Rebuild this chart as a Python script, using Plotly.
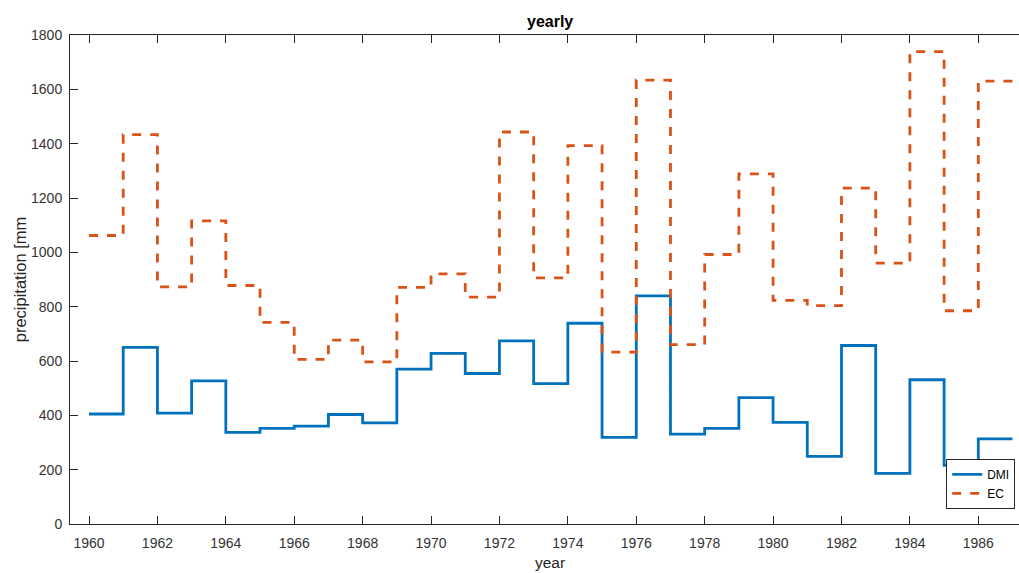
import plotly.graph_objects as go

# Yearly precipitation totals [mm]
years = list(range(1960, 1987))
dmi = [405, 650, 408, 527, 337, 352, 360, 403, 372, 570, 628, 554, 674,
       517, 739, 319, 840, 331, 352, 465, 374, 249, 657, 186, 531, 216, 313]
ec = [1062, 1433, 873, 1116, 878, 742, 606, 677, 597, 871, 921, 835, 1443,
      906, 1393, 633, 1634, 660, 992, 1289, 823, 804, 1236, 960, 1739, 785, 1630]
x_ticks = list(range(1960, 1987, 2))
y_ticks = list(range(0, 1801, 200))

# stairs: each value holds for one year, the last one until the end of 1986
x_steps = years + [years[-1] + 1]
dmi_steps = dmi + [dmi[-1]]
ec_steps = ec + [ec[-1]]

FONT = "Liberation Sans, Arial, sans-serif"
AX = "#262626"

fig = go.Figure()
fig.add_trace(go.Scatter(x=x_steps, y=dmi_steps, mode="lines", name="DMI",
                         line=dict(color="#0072BD", width=2.8, shape="hv")))
fig.add_trace(go.Scatter(x=x_steps, y=ec_steps, mode="lines", name="EC",
                         line=dict(color="#D95319", width=2.8, shape="hv",
                                   dash="9px,9px")))

fig.update_layout(
    width=1019, height=573,
    margin=dict(l=70, r=0, t=35, b=49),
    paper_bgcolor="white", plot_bgcolor="white",
    font=dict(family=FONT, color=AX, size=14),
    showlegend=True,
    legend=dict(x=0.996, y=0.031, xanchor="right", yanchor="bottom",
                bordercolor=AX, borderwidth=1, bgcolor="white",
                font=dict(size=12, color="#000000"),
                tracegroupgap=0, itemwidth=30),
    xaxis=dict(range=[1959.444, 1987.19], tickmode="array", tickvals=x_ticks,
               ticks="inside", ticklen=8, tickcolor=AX, showline=True,
               linecolor=AX, linewidth=1, mirror="allticks", showgrid=False,
               zeroline=False, tickfont=dict(size=14, color="#333333"),
               ticklabelstandoff=6),
    yaxis=dict(range=[0, 1800], tickmode="array", tickvals=y_ticks,
               ticks="inside", ticklen=8, tickcolor=AX, showline=True,
               linecolor=AX, linewidth=1, mirror=False, showgrid=False,
               zeroline=False, tickfont=dict(size=14, color="#333333"),
               ticklabelstandoff=4),
    annotations=[
        dict(text="<b>yearly</b>", xref="paper", yref="paper", x=0.5058,
             y=1.0266, xanchor="center", yanchor="middle", showarrow=False,
             font=dict(size=16, color="#000000")),
        dict(text="year", xref="paper", yref="paper", x=0.5058, y=-0.0575,
             xanchor="center", yanchor="top", showarrow=False,
             font=dict(size=15.5, color=AX)),
        dict(text="precipitation [mm", xref="paper", yref="paper", x=-0.0524,
             y=0.501, xanchor="center", yanchor="middle", textangle=-90,
             showarrow=False, font=dict(size=16.5, color=AX)),
    ],
)

fig.write_html("out.html")
